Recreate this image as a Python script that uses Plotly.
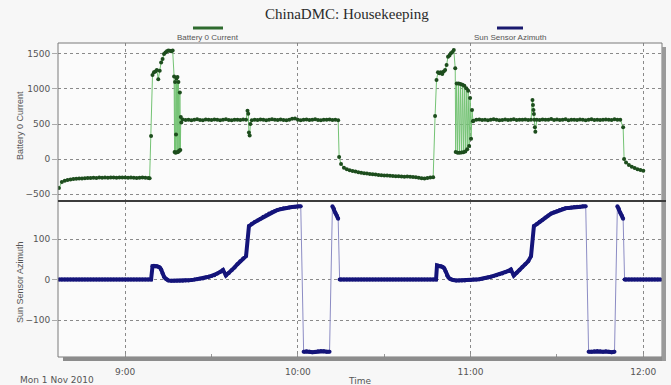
import datetime as dt
import plotly.graph_objects as go
from plotly.subplots import make_subplots

# ---------------- data (segments: start time, sample step in seconds, values) ----------------
battery_starts = ["08:37:00", "09:08:30", "09:17:10", "09:20:00", "09:42:30", "09:44:00",
                  "10:14:20", "10:16:00", "10:47:40", "10:54:50", "11:01:00", "11:21:30",
                  "11:23:00", "11:53:00", "11:54:00"]
battery_steps = [60, 30, 10, 60, 15, 60, 40, 60, 30, 20, 60, 10, 60, 20, 60]
battery_values = [
    [-414, -330, -312, -300, -292, -287, -283, -280, -277, -275, -272, -270, -268, -270, -266, -268,
     -265, -267, -264, -266, -268, -265, -263, -266, -268, -265, -267, -270, -268, -266, -269, -272],
    [-275, 330, 1200, 1240, 1250, 1270, 1140, 1260, 1380, 1430, 1500, 1520, 1540, 1550, 1545, 1540, 1550, 1180],
    [100, 1100, 90, 350, 1150, 95, 1170, 100, 1100, 110, 120, 950, 130, 600, 520],
    [565, 558, 562, 555, 560, 568, 557, 552, 563, 560, 556, 565, 559, 553, 561, 566, 558, 555, 562, 560, 557, 564, 559],
    [690, 645, 380, 335, 500],
    [555, 562, 558, 565, 560, 553, 559, 566, 561, 556, 563, 558, 552, 560, 575, 578, 562, 555, 559, 564,
     557, 561, 566, 558, 554, 562, 559, 565, 557, 561, 555],
    [30, -70],
    [-125, -145, -160, -172, -180, -188, -195, -202, -208, -213, -218, -223, -227, -231, -234, -237,
     -240, -242, -245, -247, -249, -252, -250, -255, -256, -262, -268, -275, -278, -272, -265, -262],
    [614, 1130, 1238, 1225, 1240, 1214, 1250, 1271, 1343, 1462, 1480, 1510, 1530, 1557, 1295],
    [100, 1080, 88, 1078, 90, 1070, 92, 1062, 98, 1045, 108, 1010, 140, 975, 185, 870, 290, 700, 540],
    [548, 560, 565, 557, 562, 555, 559, 566, 561, 553, 558, 563, 557, 560, 568, 556, 561, 559, 564, 557, 560],
    [843, 771, 700, 643, 560, 453, 390],
    [562, 557, 565, 559, 561, 570, 556, 563, 558, 560, 566, 553, 559, 562, 557, 565, 561, 555, 560, 567,
     558, 562, 556, 561, 564, 559, 557, 566, 560, 562],
    [453, 0],
    [-50, -85, -110, -130, -145, -158, -167],
]

sun_starts = ["08:37:00", "09:09:30", "09:15:00", "10:02:00", "10:12:00", "10:15:00",
              "10:48:20", "10:54:00", "11:41:00", "11:51:00", "11:54:00"]
sun_steps = [60, 30, 60, 60, 30, 60, 30, 60, 60, 30, 60]
sun_values = [
    [0, 0, 0, 0, 0, 0, 0, 0, 0, 0, 0, 0, 0, 0, 0, 0, 0, 0, 0, 0, 0, 0, 0, 0, 0, 0, 0, 0, 0, 0, 0, 0, 0],
    [33, 34, 33, 33, 32, 30, 25, 15, 7, 3, 0],
    [-2, -3, -3, -3, -3, -3, -2, -2, -1, 0, 1, 2, 3, 5, 7, 9, 11, 15, 19, 24,
     10, 16, 23, 30, 38, 45, 52, 58, 132, 138, 142, 146, 150, 155, 159, 163, 166, 169, 172, 174,
     176, 177, 178, 179, 180, 181, 181],
    [-178, -177, -178, -179, -178, -177, -176, -177, -178, -178],
    [181, 175, 165, 158, 150, 0],
    [0, 0, 0, 0, 0, 0, 0, 0, 0, 0, 0, 0, 0, 0, 0, 0, 0, 0, 0, 0, 0, 0, 0, 0, 0, 0, 0, 0, 0, 0, 0, 0, 0, 0],
    [35, 34, 33, 33, 31, 28, 20, 10, 5, 2, 0],
    [-1, -2, -2, -2, -2, -1, -1, 0, 0, 1, 2, 4, 5, 7, 9, 11, 13, 15, 18, 21,
     25, 10, 17, 24, 31, 38, 45, 58, 132, 137, 143, 148, 153, 158, 163, 166, 169, 172, 174, 176,
     177, 178, 179, 180, 180, 181, 181],
    [-178, -178, -177, -176, -177, -178, -177, -178, -179, -178],
    [181, 175, 165, 158, 150, 0],
    [0, 0, 0, 0, 0, 0, 0, 0, 0, 0, 0, 0, 0],
]

hour_ticks = ["2010-11-01 09:00", "2010-11-01 10:00", "2010-11-01 11:00", "2010-11-01 12:00"]
hour_labels = ["9:00", "10:00", "11:00", "12:00"]
battery_ticks = [-500, 0, 500, 1000, 1500]
sun_ticks = [-100, 0, 100]


def build(starts, steps, values):
    xs, ys = [], []
    for s, st, vals in zip(starts, steps, values):
        t0 = dt.datetime.strptime("2010-11-01 " + s, "%Y-%m-%d %H:%M:%S")
        for i, v in enumerate(vals):
            xs.append(t0 + dt.timedelta(seconds=st * i))
            ys.append(v)
    return xs, ys


bx, by = build(battery_starts, battery_steps, battery_values)
sx, sy = build(sun_starts, sun_steps, sun_values)

# thick trace for the azimuth: break the stroke at large jumps (drawn thin instead)
JUMP = 100
tx, ty = [sx[0]], [sy[0]]
for i in range(1, len(sx)):
    if abs(sy[i] - sy[i - 1]) > JUMP:
        tx.append(None)
        ty.append(None)
    tx.append(sx[i])
    ty.append(sy[i])

# ---------------- figure ----------------
W, H = 671, 385
L, R, T, B = 58, 9, 43, 28
pw, ph = W - L - R, H - T - B
split = 201


def px(x):
    return (x - L) / pw


def py(y):
    return (H - B - y) / ph


fig = make_subplots(rows=2, cols=1, shared_xaxes=True, vertical_spacing=0)

fig.add_trace(go.Scatter(x=bx, y=by, mode="lines+markers", name="Battery 0 Current",
                         line=dict(color="#74c374", width=1),
                         marker=dict(color="#1d4d1d", size=4, line=dict(width=0))), row=1, col=1)
fig.add_trace(go.Scatter(x=sx, y=sy, mode="lines", name="Sun Sensor Azimuth",
                         line=dict(color="#8c8cc4", width=1)), row=2, col=1)
fig.add_trace(go.Scatter(x=tx, y=ty, mode="lines+markers", connectgaps=False,
                         name="Sun Sensor Azimuth",
                         line=dict(color="#14147a", width=4),
                         marker=dict(color="#14147a", size=4, line=dict(width=0))), row=2, col=1)

tickfont = dict(family="DejaVu Sans", size=9, color="#555555")
grid = dict(showgrid=True, gridcolor="#8a8a8a", griddash="dot", gridwidth=1)

xr = ["2010-11-01 08:36:40", "2010-11-01 12:06:30"]
fig.update_xaxes(range=xr, tickvals=hour_ticks, ticktext=hour_labels, zeroline=False,
                 showline=False, ticks="", **grid)
fig.update_xaxes(showticklabels=False, row=1, col=1)
fig.update_xaxes(showticklabels=True, tickfont=tickfont, ticklabelstandoff=8,
                 minor=dict(dtick=1800000, tick0="2010-11-01 09:00", ticks="inside",
                            ticklen=3, tickcolor="#999999", showgrid=False),
                 row=2, col=1)

fig.update_yaxes(range=[-600, 1657], tickvals=battery_ticks, tickfont=tickfont, zeroline=False,
                 ticks="outside", ticklen=5, tickcolor="#aaaaaa", showline=False,
                 domain=[py(split), 1], row=1, col=1, **grid)
fig.update_yaxes(range=[-191, 194], tickvals=sun_ticks, tickfont=tickfont, zeroline=False,
                 ticks="outside", ticklen=5, tickcolor="#aaaaaa", showline=False,
                 domain=[0, py(split)], row=2, col=1, **grid)

shapes = [
    dict(type="rect", xref="paper", yref="paper", x0=0, x1=1, y0=0, y1=1,
         line=dict(color="#7a7a7a", width=1)),
    dict(type="rect", xref="paper", yref="paper", x0=px(63), x1=px(666), y0=py(361), y1=0,
         fillcolor="#8c8c8c", line=dict(width=0)),
    dict(type="rect", xref="paper", yref="paper", x0=1, x1=px(666), y0=py(361), y1=py(47),
         fillcolor="#9a9a9a", line=dict(width=0)),
    dict(type="line", xref="paper", yref="paper", x0=0, x1=px(666), y0=py(split), y1=py(split),
         line=dict(color="#3c3c3c", width=2)),
    dict(type="line", xref="paper", yref="paper", x0=px(193), x1=px(223), y0=py(28), y1=py(28),
         line=dict(color="#2e6b2e", width=3)),
    dict(type="line", xref="paper", yref="paper", x0=px(497), x1=px(523), y0=py(28), y1=py(28),
         line=dict(color="#1a1a6e", width=3)),
]

ann_font = dict(family="DejaVu Sans", size=9, color="#555555")
annotations = [
    dict(text="ChinaDMC: Housekeeping", x=px(347), y=py(14), xref="paper", yref="paper",
         showarrow=False, xanchor="center", yanchor="middle",
         font=dict(family="Liberation Serif", size=15, color="#2a2a2a")),
    dict(text="Battery 0 Current", x=px(208), y=py(38), xref="paper", yref="paper",
         showarrow=False, xanchor="center", yanchor="middle",
         font=dict(family="Liberation Sans", size=8, color="#555555")),
    dict(text="Sun Sensor Azimuth", x=px(510), y=py(38), xref="paper", yref="paper",
         showarrow=False, xanchor="center", yanchor="middle",
         font=dict(family="Liberation Sans", size=8, color="#555555")),
    dict(text="Battery 0 Current", x=px(20), y=py(126), xref="paper", yref="paper",
         showarrow=False, textangle=-90, xanchor="center", yanchor="middle",
         font=dict(family="Liberation Sans", size=9, color="#555555")),
    dict(text="Sun Sensor Azimuth", x=px(20), y=py(282), xref="paper", yref="paper",
         showarrow=False, textangle=-90, xanchor="center", yanchor="middle",
         font=dict(family="Liberation Sans", size=9, color="#555555")),
    dict(text="Mon 1 Nov 2010", x=px(18), y=py(380), xref="paper", yref="paper",
         showarrow=False, xanchor="left", yanchor="middle", font=ann_font),
    dict(text="Time", x=px(359), y=py(381), xref="paper", yref="paper",
         showarrow=False, xanchor="center", yanchor="middle", font=ann_font),
]

fig.update_layout(width=W, height=H, margin=dict(l=L, r=R, t=T, b=B),
                  paper_bgcolor="#f7f7f7", plot_bgcolor="#fbfbfb",
                  showlegend=False, shapes=shapes, annotations=annotations)

fig.write_html("out.html")
